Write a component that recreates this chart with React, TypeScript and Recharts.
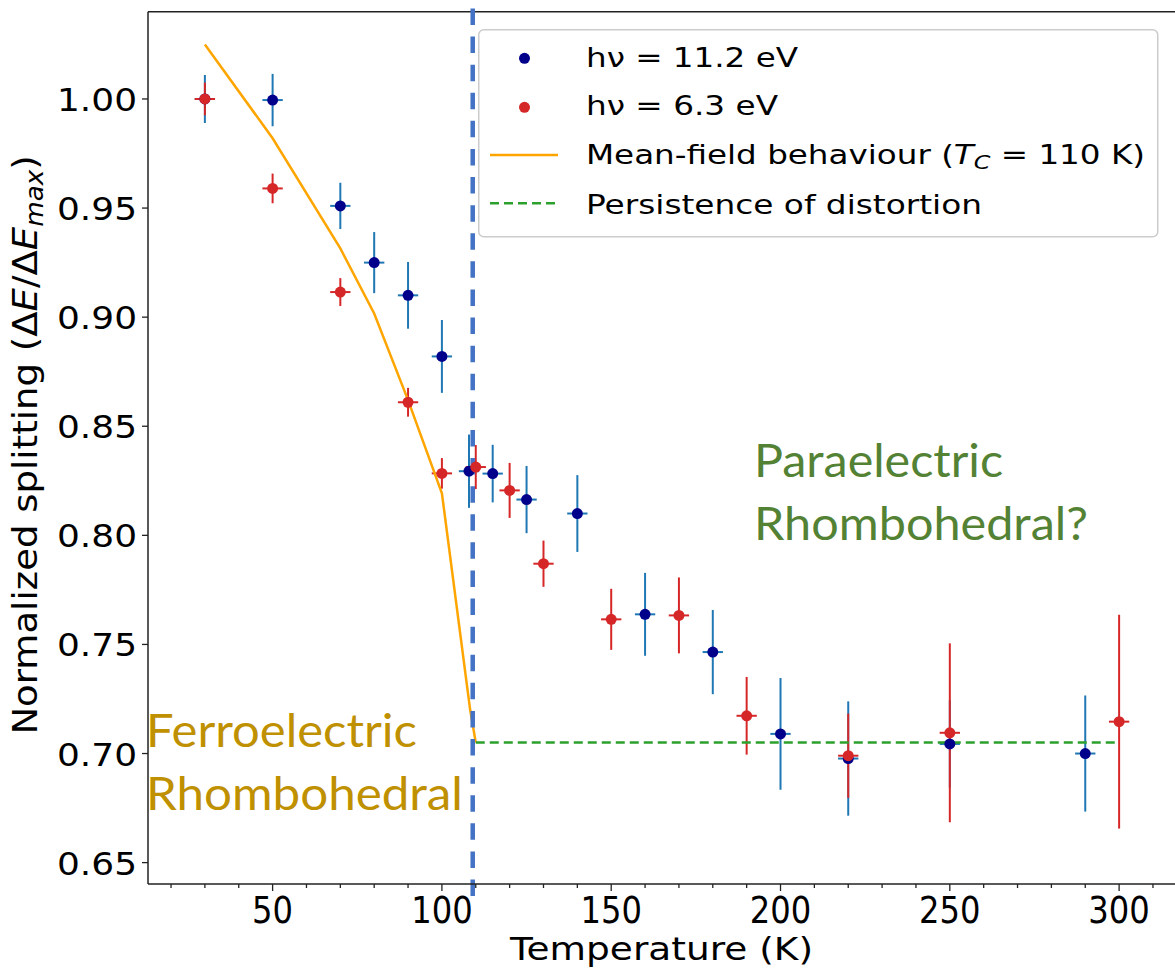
import React from 'react';
import { ComposedChart, Scatter, Line, XAxis, YAxis, ErrorBar, ReferenceLine, Legend, Customized } from 'recharts';

// hv = 11.2 eV
const temps112 = [30, 50, 70, 80, 90, 100, 108, 115, 125, 140, 160, 180, 200, 220, 250, 290];
const split112 = [1.0, 0.9995, 0.951, 0.925, 0.91, 0.882, 0.8294, 0.8283, 0.8164, 0.81, 0.7638, 0.7465, 0.709, 0.6977, 0.7044, 0.7];
const err112 = [0.011, 0.012, 0.0106, 0.014, 0.0153, 0.0167, 0.0168, 0.0132, 0.0154, 0.0176, 0.019, 0.0193, 0.0256, 0.0262, 0.02, 0.0266];

// hv = 6.3 eV
const temps63 = [30, 50, 70, 90, 100, 110, 120, 130, 150, 170, 190, 220, 250, 300];
const split63 = [1.0, 0.959, 0.9115, 0.861, 0.8284, 0.8313, 0.8206, 0.787, 0.7615, 0.7633, 0.7173, 0.699, 0.7095, 0.7146];
const err63 = [0.0075, 0.0068, 0.0064, 0.0066, 0.007, 0.0101, 0.0126, 0.0106, 0.014, 0.0174, 0.0178, 0.0193, 0.041, 0.049];

const tempErr = 3;

// mean-field curve and flat line
const mfTemps = [30, 50, 70, 80, 90, 100, 108.3, 110];
const mfValues = [1.025, 0.982, 0.9315, 0.9017, 0.862, 0.8193, 0.7205, 0.705];
const flatTemps = [110, 300];
const flatValues = [0.705, 0.705];

const tc = 109.1;

const xTicks = [20, 30, 40, 50, 60, 70, 80, 90, 100, 110, 120, 130, 140, 150, 160, 170, 180, 190, 200, 210, 220, 230, 240, 250, 260, 270, 280, 290, 300, 310];
const xMajor = [50, 100, 150, 200, 250, 300];
const yTicks = [0.65, 0.7, 0.75, 0.8, 0.85, 0.9, 0.95, 1.0];

const X_DOMAIN: [number, number] = [13.2, 316.8];
const Y_DOMAIN: [number, number] = [0.6402, 1.04];

const pts = (t: number[], v: number[], e: number[]) =>
  t.map((x, i) => ({ t: x, v: v[i], ev: e[i], et: tempErr }));
const line = (t: number[], v: number[]) => t.map((x, i) => ({ t: x, v: v[i] }));

const data112 = pts(temps112, split112, err112);
const data63 = pts(temps63, split63, err63);
const mfData = line(mfTemps, mfValues);
const flatData = line(flatTemps, flatValues);

const FONT = '"DejaVu Sans", sans-serif';

const XTick = (props: any) => {
  const { x, y, payload } = props;
  const major = xMajor.includes(payload.value);
  const s = String(payload.value);
  return (
    <g>
      <line x1={x} y1={y} x2={x} y2={y + (major ? 7 : 4)} stroke="#222" strokeWidth={1.3} />
      {major && (
        <text x={x} y={y + 39} textAnchor="middle" fontFamily={FONT} fontSize={38} fill="#000"
          textLength={s.length * 20.5} lengthAdjust="spacingAndGlyphs">{s}</text>
      )}
    </g>
  );
};

const YTick = (props: any) => {
  const { x, y, payload } = props;
  return (
    <g>
      <line x1={x} y1={y} x2={x - 6} y2={y} stroke="#222" strokeWidth={1.3} />
      <text x={x - 11} y={y + 12} textAnchor="end" fontFamily={FONT} fontSize={31.5} fill="#000"
        textLength={80} lengthAdjust="spacingAndGlyphs">{Number(payload.value).toFixed(2)}</text>
    </g>
  );
};

const LegendBox = () => (
  <svg width={681} height={209} style={{ display: 'block' }}>
    <rect x={0.75} y={0.75} width={679} height={207} rx={5} fill="#fff" fillOpacity={0.8} stroke="#cccccc" strokeWidth={1.5} />
    <circle cx={46.5} cy={29.3} r={5.5} fill="#00008b" />
    <circle cx={46.5} cy={78.3} r={5.5} fill="#d62728" />
    <line x1={12} x2={80} y1={126} y2={126} stroke="#ffa500" strokeWidth={2.5} />
    <line x1={12} x2={80} y1={174.3} y2={174.3} stroke="#2ca02c" strokeWidth={2.5} strokeDasharray="9 5" />
    <g fontFamily={FONT} fontSize={26} fill="#000">
      <text x={108} y={37.7} textLength={212} lengthAdjust="spacingAndGlyphs">hν = 11.2 eV</text>
      <text x={108} y={86} textLength={192} lengthAdjust="spacingAndGlyphs">hν = 6.3 eV</text>
      <text x={108} y={135} textLength={559} lengthAdjust="spacingAndGlyphs">
        Mean-field behaviour (<tspan fontStyle="italic">T</tspan>
        <tspan fontStyle="italic" fontSize={19} dy={5}>C</tspan>
        <tspan dy={-5}> = 110 K)</tspan>
      </text>
      <text x={108} y={185} textLength={396} lengthAdjust="spacingAndGlyphs">Persistence of distortion</text>
    </g>
  </svg>
);

const Annotations = () => (
  <g>
    <text x={661.5} y={960} textAnchor="middle" fontFamily={FONT} fontSize={32} fill="#000"
      textLength={303} lengthAdjust="spacingAndGlyphs">Temperature (K)</text>
    <text transform="translate(37,445) rotate(-90) scale(1.09,1)" textAnchor="middle" fontFamily={FONT} fontSize={34} fill="#000">
      Normalized splitting (Δ<tspan fontStyle="italic">E</tspan>/Δ<tspan fontStyle="italic">E</tspan>
      <tspan fontStyle="italic" fontSize={24} dy={6}>max</tspan>
      <tspan dy={-6}>)</tspan>
    </text>
    <g fontFamily="Lato, sans-serif" fontSize={46}>
      <text x={146} y={746.7} fill="#bf9000" textLength={271} lengthAdjust="spacingAndGlyphs">Ferroelectric</text>
      <text x={146} y={810} fill="#bf9000" textLength={317} lengthAdjust="spacingAndGlyphs">Rhombohedral</text>
      <text x={754} y={476.7} fill="#548235" textLength={249} lengthAdjust="spacingAndGlyphs">Paraelectric</text>
      <text x={754} y={540} fill="#548235" textLength={334} lengthAdjust="spacingAndGlyphs">Rhombohedral?</text>
    </g>
  </g>
);

const dot = (color: string) => (p: any) => <circle cx={p.cx} cy={p.cy} r={5.5} fill={color} />;
const none = () => <g />;

export default function App() {
  return (
    <div style={{ position: 'absolute', left: 0, top: 0, width: 1175, height: 969, overflow: 'hidden', background: '#fff' }}>
      <ComposedChart width={1177} height={969} margin={{ top: 11.7, right: 1, bottom: 0, left: 0 }}>
        <XAxis type="number" dataKey="t" domain={X_DOMAIN} ticks={xTicks} interval={0} allowDataOverflow
          tick={<XTick />} tickLine={false} tickSize={0} tickMargin={0} height={85}
          axisLine={{ stroke: '#222', strokeWidth: 1.5 }} />
        <YAxis type="number" domain={Y_DOMAIN} ticks={yTicks} interval={0} allowDataOverflow
          tick={<YTick />} tickLine={false} tickSize={0} tickMargin={0} width={148}
          axisLine={{ stroke: '#222', strokeWidth: 1.5 }} />
        <ReferenceLine y={Y_DOMAIN[1]} stroke="#222" strokeWidth={1.5} />
        <ReferenceLine x={X_DOMAIN[1]} stroke="#222" strokeWidth={1.5} />

        {/* markers first, then the error bars drawn over them (blue, then red on top) */}
        <Scatter data={data112} dataKey="v" shape={dot('#00008b')} isAnimationActive={false} />
        <Scatter data={data112} dataKey="v" shape={none} isAnimationActive={false}>
          <ErrorBar dataKey="ev" direction="y" width={0} stroke="#1f77b4" strokeWidth={2} />
          <ErrorBar dataKey="et" direction="x" width={0} stroke="#1f77b4" strokeWidth={2} />
        </Scatter>
        <Scatter data={data63} dataKey="v" shape={dot('#d62728')} isAnimationActive={false} />
        <Scatter data={data63} dataKey="v" shape={none} isAnimationActive={false}>
          <ErrorBar dataKey="ev" direction="y" width={0} stroke="#d62728" strokeWidth={2} />
          <ErrorBar dataKey="et" direction="x" width={0} stroke="#d62728" strokeWidth={2} />
        </Scatter>

        <Line data={mfData} dataKey="v" type="linear" stroke="#ffa500" strokeWidth={2.5} dot={false} activeDot={false} isAnimationActive={false} />
        <Line data={flatData} dataKey="v" type="linear" stroke="#2ca02c" strokeWidth={2.5} strokeDasharray="9 5" dot={false} activeDot={false} isAnimationActive={false} />

        <ReferenceLine segment={[{ x: tc, y: 1.0415 }, { x: tc, y: 0.6298 }]} ifOverflow="visible"
          stroke="#4472c4" strokeWidth={4.5} strokeDasharray="16.5 11.6" />

        <Legend layout="horizontal" verticalAlign="middle" align="center" content={<LegendBox />}
          wrapperStyle={{ left: 478, top: 29, width: 681, height: 209 }} />
        <Customized component={Annotations} />
      </ComposedChart>
    </div>
  );
}
